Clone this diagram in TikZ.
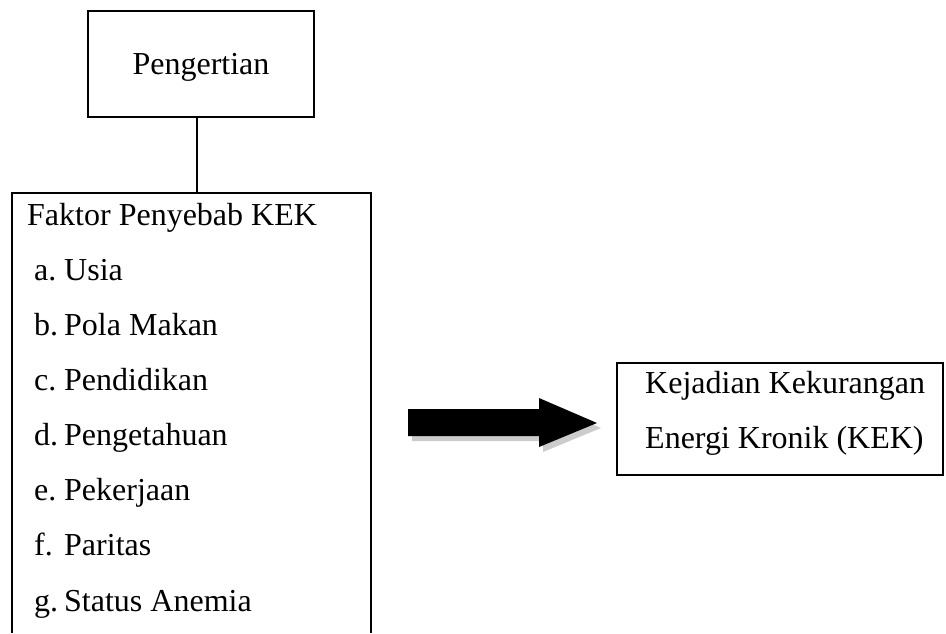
\documentclass[tikz,border=0pt]{standalone}
\usepackage{fontspec}
\setmainfont{Liberation Serif}
\begin{document}
\begin{tikzpicture}[x=1pt,y=-1pt,
  boxline/.style={line width=2.2pt},
  txt/.style={inner sep=0pt,anchor=base west,font=\fontsize{32}{36}\selectfont},
  lbl/.style={txt}]
\useasboundingbox (0,0) rectangle (946,633);
% Pengertian box
\node[boxline,draw,minimum width=226pt,minimum height=106pt,inner sep=0pt] (peng) at (201,64) {};
\node[txt,anchor=base] (pengtxt) at (201,74) {Pengertian};
% big box (open at bottom)
\coordinate (fbtop) at (197,193);
\coordinate (fbbl) at (12,633);
\coordinate (fbtl) at (12,193);
\coordinate (fbtr) at (371,193);
\coordinate (fbbr) at (371,633);
\draw[boxline] (fbbl) -- (fbtl) -- (fbtr) -- (fbbr);
\draw[line width=1.3pt] (peng.south -| fbtop) -- (fbtop);
\node[txt] (faktor) at (27,225) {Faktor Penyebab KEK};
\node[lbl] (la) at (34,280) {a.}; \node[txt] (ta) at (64,280) {Usia};
\node[lbl] (lb) at (34,335) {b.}; \node[txt] (tb) at (64,335) {Pola Makan};
\node[lbl] (lc) at (34,390) {c.}; \node[txt] (tc) at (64,390) {Pendidikan};
\node[lbl] (ld) at (34,445) {d.}; \node[txt] (td) at (64,445) {Pengetahuan};
\node[lbl] (le) at (34,500) {e.}; \node[txt] (te) at (64,500) {Pekerjaan};
\node[lbl] (lf) at (34,555) {f.}; \node[txt] (tf) at (64,555) {Paritas};
\node[lbl] (lg) at (34,611) {g.}; \node[txt] (tg) at (64,611) {Status Anemia};
% arrow with shadow
\fill[gray!40] (412,414) -- (543,414) -- (543,403) -- (601,428) -- (543,452) -- (543,441) -- (412,441) -- cycle;
\fill[black] (408,409) -- (539,409) -- (539,398) -- (597,423) -- (539,447) -- (539,436) -- (408,436) -- cycle;
% KEK box
\node[boxline,draw,minimum width=326pt,minimum height=112pt,inner sep=0pt] (kek) at (780,419) {};
\node[txt] (kek1) at (645,393) {Kejadian Kekurangan};
\node[txt] (kek2) at (645,448) {Energi Kronik (KEK)};
\end{tikzpicture}
\end{document}
